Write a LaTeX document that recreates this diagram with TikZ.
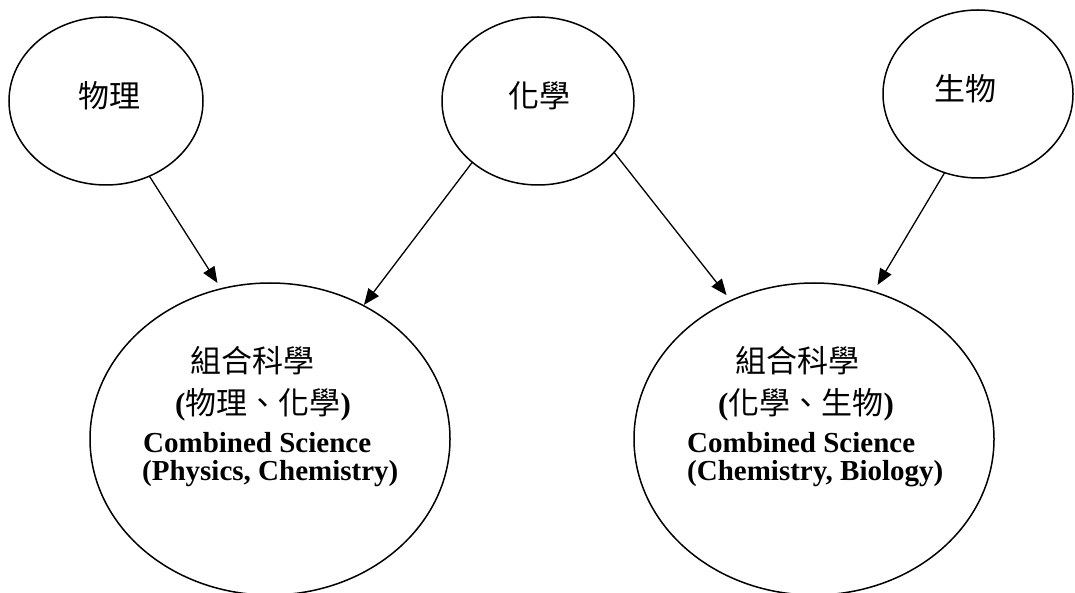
\documentclass[tikz,border=0pt]{standalone}
\usepackage{fontspec}
\setmainfont{Liberation Serif}
\newfontfamily\cjk{Noto Sans CJK TC}
\usetikzlibrary{arrows.meta,shapes.geometric}
\newcommand\myparen[1]{{\rmfamily\bfseries #1}}
\begin{document}
\begin{tikzpicture}[x=1pt,y=1pt,
  bub/.style={draw, ellipse, line width=1.5pt, inner sep=0pt, outer sep=0pt},
  arr/.style={line width=1.3pt, -{Triangle[length=16pt,width=13pt]}},
  zh/.style={font=\cjk\fontsize{31}{31}\selectfont, inner sep=0pt, anchor=base},
  zhl/.style={font=\cjk\fontsize{31}{31}\selectfont, inner sep=0pt, anchor=base west},
  en/.style={font=\rmfamily\bfseries\fontsize{29}{29}\selectfont, inner sep=0pt, anchor=base west}]
\useasboundingbox (0,0) rectangle (1075,592);

% small ellipses
\node[bub, minimum width=194pt, minimum height=168pt] (phys) at (106,491) {};
\node[bub, minimum width=192pt, minimum height=168pt] (chem) at (538,491) {};
\node[bub, minimum width=190pt, minimum height=168pt] (bio)  at (978,498) {};
\node[zh] (tphys) at (109,484) {物理};
\node[zh] (tchem) at (539,484) {化學};
\node[zh] (tbio)  at (965,491) {生物};

% big ellipses
\node[bub, minimum width=360pt, minimum height=312pt] (comb1) at (270,153) {};
\node[bub, minimum width=360pt, minimum height=312pt] (comb2) at (814,153) {};

\node[zhl] (c1a) at (190,220) {組合科學};
\node[zhl] (c1b) at (175,178) {\myparen{(}物理、化學\myparen{)}};
\node[en]  (c1c) at (143,140) {Combined Science};
\node[en]  (c1d) at (142,112) {(Physics, Chemistry)};

\node[zhl] (c2a) at (735,220) {組合科學};
\node[zhl] (c2b) at (718,178) {\myparen{(}化學、生物\myparen{)}};
\node[en]  (c2c) at (687,140) {Combined Science};
\node[en]  (c2d) at (687,112) {(Chemistry, Biology)};

% arrows
\draw[arr, shorten >=7pt] (phys.-60) -- (comb1.108);
\draw[arr, shorten >=1pt] (chem.-137) -- (comb1.55);
\draw[arr, shorten >=7pt] (chem.-34) -- (comb2.121);
\draw[arr, shorten >=8pt] (bio.-113) -- (comb2.68);
\end{tikzpicture}
\end{document}
